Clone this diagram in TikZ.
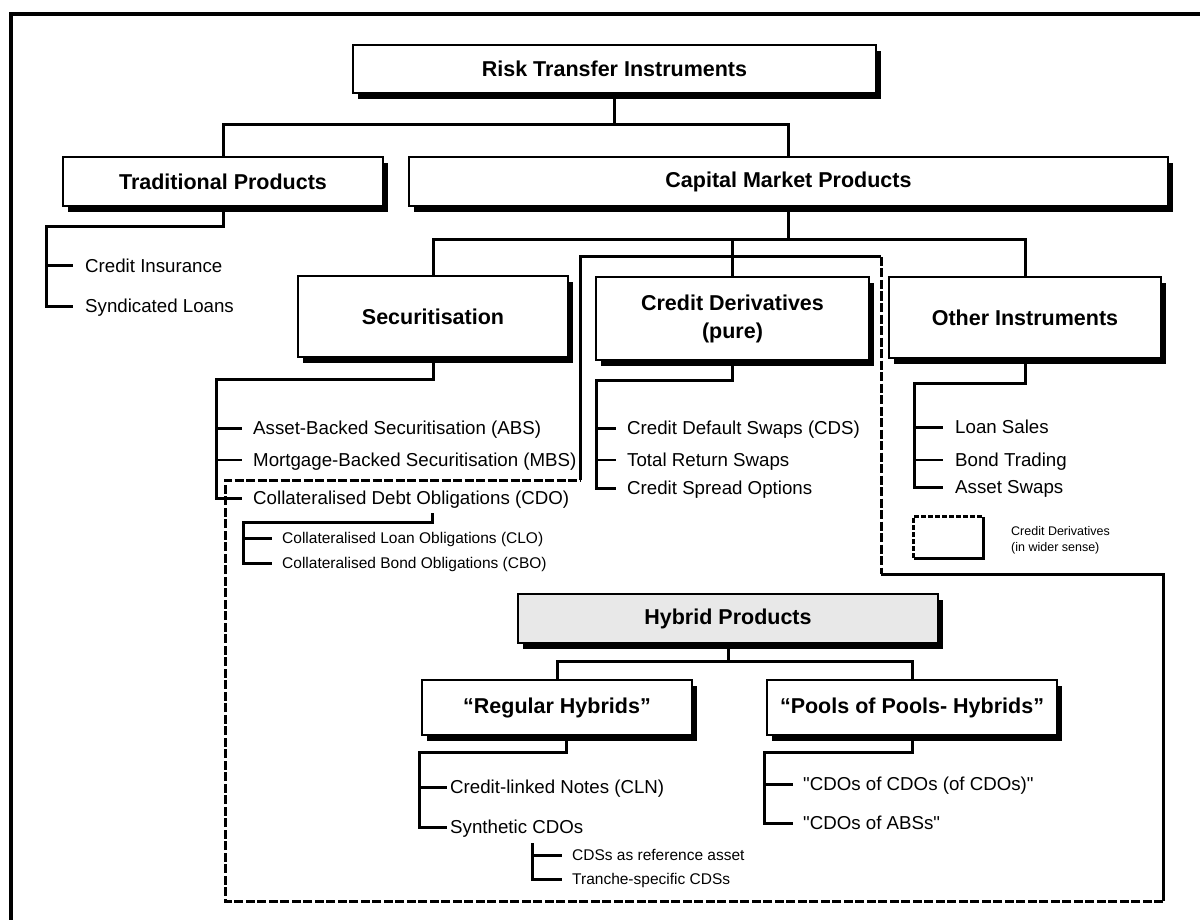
\documentclass[tikz,border=0pt]{standalone}
\usepackage{fontspec}
\setmainfont{Liberation Sans}
\usetikzlibrary{shadows}
\begin{document}
\begin{tikzpicture}[x=1pt,y=-1pt,
  box/.style={draw, line width=2.8pt, fill=white, inner sep=0pt, align=center,
    drop shadow={shadow xshift=5pt,shadow yshift=-6pt,fill=black,opacity=1},
    font=\fontsize{21.5}{28}\selectfont\bfseries},
  conn/.style={line width=3pt},
  thinline/.style={line width=1.7pt},
  dsh/.style={line width=3pt, dash pattern=on 9pt off 2.5pt},
  item/.style={anchor=west, inner sep=0pt, text height=13.4pt, text depth=0pt,
    font=\fontsize{18.7}{22}\selectfont},
  smallitem/.style={anchor=west, inner sep=0pt, text height=11.1pt, text depth=0pt,
    font=\fontsize{15.5}{18}\selectfont},
  legtext/.style={anchor=west, inner sep=0pt, align=left,
    font=\fontsize{12.5}{16}\selectfont}
]
\useasboundingbox (0,0) rectangle (1200,920);
\fill[white] (0,0) rectangle (1200,920);

% outer frame
\coordinate (f1) at (11,920);
\coordinate (f2) at (11,14);
\coordinate (f3) at (1200,14);
\draw[line width=3.5pt] (f1) -- (f2) -- (f3);

% boxes
\node[box, minimum width=523pt, minimum height=48pt] (root) at (614.5,69) {Risk Transfer Instruments};
\node[box, minimum width=320pt, minimum height=49pt] (trad) at (223,181.5) {Traditional Products};
\node[box, minimum width=759pt, minimum height=49pt] (cap) at (788.5,181.5) {Capital Market Products};
\node[box, minimum width=270pt, minimum height=81pt] (sec) at (433,316.5) {Securitisation};
\node[box, minimum width=273pt, minimum height=83pt] (cd) at (732.5,318.5) {Credit Derivatives\\(pure)};
\node[box, minimum width=272pt, minimum height=81pt] (oth) at (1025,317.5) {Other Instruments};
\node[box, fill=gray!18, minimum width=420pt, minimum height=49pt] (hyb) at (728,618.5) {Hybrid Products};
\node[box, minimum width=270pt, minimum height=55pt] (reg) at (557,707.5) {“Regular Hybrids”};
\node[box, minimum width=290pt, minimum height=55pt] (pool) at (912,707.5) {“Pools of Pools- Hybrids”};

% level 1 connectors
\coordinate (rj) at (614.5,125);
\draw[conn] (root.south) -- (rj);
\draw[conn] (trad.north) -- (trad.north |- rj) -- (cap.north |- rj) -- (cap.north);

% traditional
\node[item] (ci) at (85,266) {Credit Insurance};
\node[item] (sl) at (85,306) {Syndicated Loans};
\coordinate (tj) at (46,227);
\draw[conn] (trad.south) |- (tj) -- (tj |- sl) -- ([xshift=-12pt]sl.west);
\draw[conn] (tj |- ci) -- ([xshift=-12pt]ci.west);

% capital
\coordinate (cj) at (788.5,240);
\draw[conn] (cap.south) -- (cj);
\draw[conn] (sec.north) -- (sec.north |- cj) -- (oth.north |- cj) -- (oth.north);
\draw[conn] (cj -| cd.north) -- (cd.north);

% securitisation
\node[item] (abs) at (253,428) {Asset-Backed Securitisation (ABS)};
\node[item] (mbs) at (253,460) {Mortgage-Backed Securitisation (MBS)};
\node[item] (cdo) at (253,498) {Collateralised Debt Obligations (CDO)};
\coordinate (sj) at (216,379);
\draw[conn] (sec.south) |- (sj) -- (sj |- cdo) -- ([xshift=-11pt]cdo.west);
\draw[conn] (sj |- abs) -- ([xshift=-11pt]abs.west);
\draw[thinline] (sj |- mbs) -- ([xshift=-11pt]mbs.west);

% CDO sub
\node[smallitem] (clo) at (282,538) {Collateralised Loan Obligations (CLO)};
\node[smallitem] (cbo) at (282,563) {Collateralised Bond Obligations (CBO)};
\coordinate (dt) at (432,513);
\coordinate (dj) at (432,522);
\coordinate (dl) at (243,522);
\draw[conn] (dt) -- (dj) -- (dl) -- (dl |- cbo) -- ([xshift=-10pt]cbo.west);
\draw[conn] (dl |- clo) -- ([xshift=-10pt]clo.west);

% credit derivatives
\node[item] (cds) at (627,428) {Credit Default Swaps (CDS)};
\node[item] (trs) at (627,460) {Total Return Swaps};
\node[item] (cso) at (627,488) {Credit Spread Options};
\coordinate (cdj) at (596,380);
\draw[conn] (cd.south) |- (cdj) -- (cdj |- cso) -- ([xshift=-11pt]cso.west);
\draw[conn] (cdj |- cds) -- ([xshift=-11pt]cds.west);
\draw[thinline] (cdj |- trs) -- ([xshift=-11pt]trs.west);

% other instruments
\node[item] (ls) at (955,427) {Loan Sales};
\node[item] (bt) at (955,460) {Bond Trading};
\node[item] (as) at (955,487) {Asset Swaps};
\coordinate (oj) at (914,383);
\draw[conn] (oth.south) |- (oj) -- (oj |- as) -- ([xshift=-12pt]as.west);
\draw[conn] (oj |- ls) -- ([xshift=-12pt]ls.west);
\draw[thinline] (oj |- bt) -- ([xshift=-12pt]bt.west);

% legend
\node[minimum width=69pt, minimum height=41pt, inner sep=0pt] (leg) at (948.5,537.5) {};
\draw[dsh, dash pattern=on 5pt off 2pt] (leg.south west) -- (leg.north west) -- (leg.north east);
\draw[conn] (leg.north east) -- (leg.south east) -- (leg.south west);
\node[legtext] (legt) at (1011,540) {Credit Derivatives\\(in wider sense)};

% credit derivatives in wider sense region
\coordinate (d1) at (580,257);
\coordinate (d2) at (881,257);
\coordinate (d3) at (881,574);
\coordinate (d4) at (1163,574);
\coordinate (d5) at (1163,901);
\coordinate (d6) at (225,901);
\coordinate (d7) at (225,480);
\coordinate (d8) at (580,480);
\draw[conn] (d8) -- (d1) -- (d2);
\draw[dsh] (d2) -- (d3);
\draw[conn] (d3) -- (d4) -- (d5);
\draw[dsh] (d5) -- (d6) -- (d7) -- (d8);

% hybrid
\coordinate (hj) at (728,661);
\draw[conn] (hyb.south) -- (hj);
\draw[conn] (reg.north) -- (reg.north |- hj) -- (pool.north |- hj) -- (pool.north);

% regular hybrids
\node[item] (cln) at (450,787) {Credit-linked Notes (CLN)};
\node[item] (syn) at (450,827) {Synthetic CDOs};
\coordinate (rgj) at (419,752);
\draw[conn] ([xshift=9pt]reg.south) |- (rgj) -- (rgj |- syn) -- ([xshift=-3pt]syn.west);
\draw[conn] (rgj |- cln) -- ([xshift=-3pt]cln.west);

% synthetic sub
\node[smallitem] (cra) at (572,855) {CDSs as reference asset};
\node[smallitem] (tsc) at (572,879) {Tranche-specific CDSs};
\coordinate (yj) at (532,843);
\draw[conn] (yj) -- (yj |- tsc) -- ([xshift=-10pt]tsc.west);
\draw[conn] (yj |- cra) -- ([xshift=-10pt]cra.west);

% pools of pools
\node[item] (cc) at (803,784) {\textquotedbl CDOs of CDOs (of CDOs)\textquotedbl};
\node[item] (ca) at (803,823) {\textquotedbl CDOs of ABSs\textquotedbl};
\coordinate (pj) at (764,752);
\draw[conn] (pool.south) |- (pj) -- (pj |- ca) -- ([xshift=-10pt]ca.west);
\draw[conn] (pj |- cc) -- ([xshift=-10pt]cc.west);
\end{tikzpicture}
\end{document}
